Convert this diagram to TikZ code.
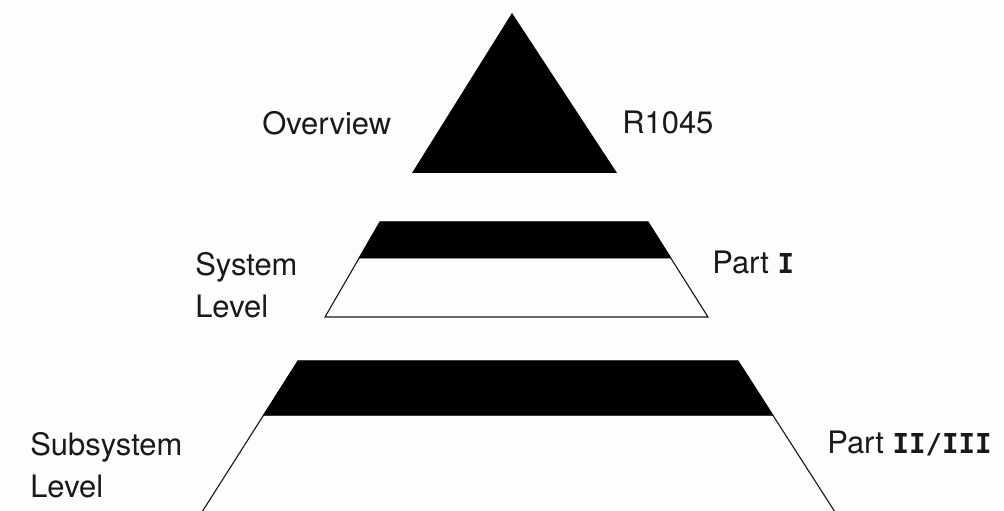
\documentclass[tikz,border=0pt]{standalone}
\usepackage{fontspec}
\setmainfont{TeX Gyre Heros}
\newfontfamily\romfont{DejaVu Sans Mono}
\usetikzlibrary{calc}

\definecolor{paper}{RGB}{253,253,251}
\definecolor{ink}{RGB}{25,25,25}

% roman part numbers in a slab face
\newcommand{\rom}[1]{{\romfont\bfseries\fontsize{19.5}{24}\selectfont #1}}

\begin{document}
\begin{tikzpicture}[
    x=0.025cm, y=-0.025cm,
    lbl/.style={anchor=base west, inner sep=0pt, text=ink,
        font=\fontsize{22}{30}\selectfont},
    band/.style={fill=black, draw=black, line width=0.5pt},
    tier/.style={draw=ink, line width=0.8pt, fill=paper, line join=miter}
]

\useasboundingbox[fill=paper] (0,0) rectangle (1004,511);

% ------------------------------------------------------------------
% 1. OVERVIEW (triangle)
% ------------------------------------------------------------------
\fill[black] (512,13) -- (412,173) -- (617,173) -- cycle;

% ------------------------------------------------------------------
% 2. SYSTEM LEVEL (middle trapezoid)
% ------------------------------------------------------------------
\coordinate (sysTL) at (380,222);
\coordinate (sysTR) at (648,222);
\coordinate (sysBL) at (325,317);
\coordinate (sysBR) at (708,317);
\draw[tier] (sysTL) -- (sysTR) -- (sysBR) -- (sysBL) -- cycle;
\draw[band] (sysTL) -- (sysTR) -- ($(sysTR)!0.38!(sysBR)$)
    -- ($(sysTL)!0.38!(sysBL)$) -- cycle;

% ------------------------------------------------------------------
% 3. SUBSYSTEM LEVEL (bottom trapezoid, runs off the page)
% ------------------------------------------------------------------
\coordinate (subTL) at (298,361);
\coordinate (subTR) at (738,361);
\coordinate (subBL) at (202,512);
\coordinate (subBR) at (835,512);
\draw[tier] (subTL) -- (subTR) -- (subBR) -- (subBL) -- cycle;
\draw[band] (subTL) -- (subTR) -- ($(subTR)!0.36!(subBR)$)
    -- ($(subTL)!0.36!(subBL)$) -- cycle;

% ------------------------------------------------------------------
% 4. LABELS
% ------------------------------------------------------------------
\node[lbl] (ovw) at (262,135) {Overview};
\node[lbl] (rep) at (622,134) {R1045};

\node[lbl] (sys) at (195,275) {System};
\node[lbl] (sysLvl) at (195,317) {Level};
\node[lbl] (partA) at (712,273) {Part \rom{I}};

\node[lbl] (sub) at (30,455) {Subsystem};
\node[lbl] (subLvl) at (30,497) {Level};
\node[lbl] (partB) at (827,453) {Part \rom{II/III}};

\end{tikzpicture}
\end{document}
